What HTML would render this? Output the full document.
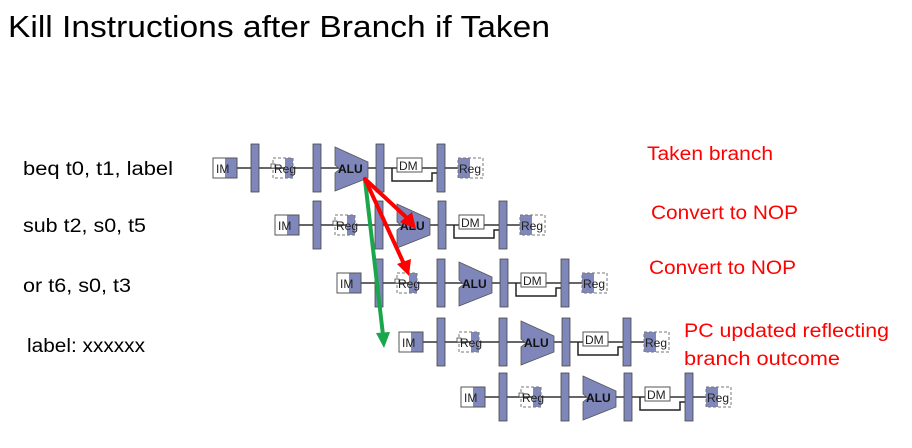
<!DOCTYPE html>
<html><head><meta charset="utf-8"><style>
html,body{margin:0;padding:0;background:#fff;}
svg{display:block;}
</style></head><body>
<svg width="912" height="448" viewBox="0 0 912 448" xmlns="http://www.w3.org/2000/svg">
<defs>
<g id="pipe">
  <line x1="237" y1="168" x2="458" y2="168" stroke="#333" stroke-width="1.5"/>
  <rect x="213" y="158" width="24" height="20" fill="#fff" stroke="#555"/>
  <rect x="225" y="158.5" width="11.5" height="19" fill="#8088bb"/>
  <text x="216" y="173" font-family="Liberation Sans, sans-serif" font-size="12" fill="#222">IM</text>
  <rect x="251" y="144" width="8" height="48" fill="#7f86ba" stroke="#444" stroke-width="0.8"/>
  <rect x="285" y="158" width="8" height="20" fill="#8088bb"/>
  <rect x="273" y="158" width="20" height="20" fill="none" stroke="#777" stroke-dasharray="3,2"/>
  <rect x="271" y="164" width="4" height="4" fill="#fff" stroke="#444" stroke-width="0.8"/>
  <text x="274" y="173" font-family="Liberation Sans, sans-serif" font-size="12" fill="#222">Reg</text>
  <rect x="313" y="144" width="8" height="48" fill="#7f86ba" stroke="#444" stroke-width="0.8"/>
  <polygon points="335,147 368,162 368,178 335,191 335,173 340,169 335,165" fill="#7f86ba" stroke="#555" stroke-width="0.8"/>
  <text x="338" y="173" font-family="Liberation Sans, sans-serif" font-size="12" font-weight="bold" fill="#111">ALU</text>
  <rect x="376" y="144" width="8" height="48" fill="#7f86ba" stroke="#444" stroke-width="0.8"/>
  <polyline points="392,168 392,181 432,181 432,173 437,173" fill="none" stroke="#222" stroke-width="1.5"/>
  <rect x="397" y="158" width="25" height="14" fill="#fff" stroke="#555"/>
  <text x="399" y="170" font-family="Liberation Sans, sans-serif" font-size="12" fill="#222">DM</text>
  <rect x="437" y="144" width="8" height="48" fill="#7f86ba" stroke="#444" stroke-width="0.8"/>
  <rect x="458" y="158" width="12" height="20" fill="#8088bb"/>
  <rect x="458" y="158" width="25" height="20" fill="none" stroke="#777" stroke-dasharray="3,2"/>
  <text x="459" y="173" font-family="Liberation Sans, sans-serif" font-size="12" fill="#222">Reg</text>
</g>
</defs>
<text x="8" y="37" font-family="Liberation Sans, sans-serif" font-size="31" fill="#000" textLength="542" lengthAdjust="spacingAndGlyphs">Kill Instructions after Branch if Taken</text>
<use href="#pipe"/>
<use href="#pipe" transform="translate(62,57)"/>
<use href="#pipe" transform="translate(124,115)"/>
<use href="#pipe" transform="translate(186,174)"/>
<use href="#pipe" transform="translate(248,229)"/>
<g font-family="Liberation Sans, sans-serif" font-size="19" fill="#000">
<text x="23" y="175" textLength="150" lengthAdjust="spacingAndGlyphs">beq t0, t1, label</text>
<text x="23" y="232" textLength="123" lengthAdjust="spacingAndGlyphs">sub t2, s0, t5</text>
<text x="23" y="292" textLength="108" lengthAdjust="spacingAndGlyphs">or t6, s0, t3</text>
<text x="27" y="352" textLength="118" lengthAdjust="spacingAndGlyphs">label: xxxxxx</text>
</g>
<g font-family="Liberation Sans, sans-serif" font-size="19" fill="#f00">
<text x="647" y="160" textLength="126" lengthAdjust="spacingAndGlyphs">Taken branch</text>
<text x="651" y="219" textLength="147" lengthAdjust="spacingAndGlyphs">Convert to NOP</text>
<text x="649" y="274" textLength="147" lengthAdjust="spacingAndGlyphs">Convert to NOP</text>
<text x="684" y="337" textLength="205" lengthAdjust="spacingAndGlyphs">PC updated reflecting</text>
<text x="684" y="365" textLength="156" lengthAdjust="spacingAndGlyphs">branch outcome</text>
</g>
<g stroke-linecap="round">
<line x1="365" y1="180" x2="383" y2="335" stroke="#1aa64a" stroke-width="4"/>
<polygon points="376,333 390,332 384,348" fill="#1aa64a"/>
<line x1="365" y1="179" x2="406" y2="217" stroke="#f00" stroke-width="4"/>
<polygon points="400,222 412,212 416,229" fill="#f00"/>
<line x1="365" y1="179" x2="404" y2="264" stroke="#f00" stroke-width="4"/>
<polygon points="397,264 411,259 409,276" fill="#f00"/>
</g>
</svg>
</body></html>
